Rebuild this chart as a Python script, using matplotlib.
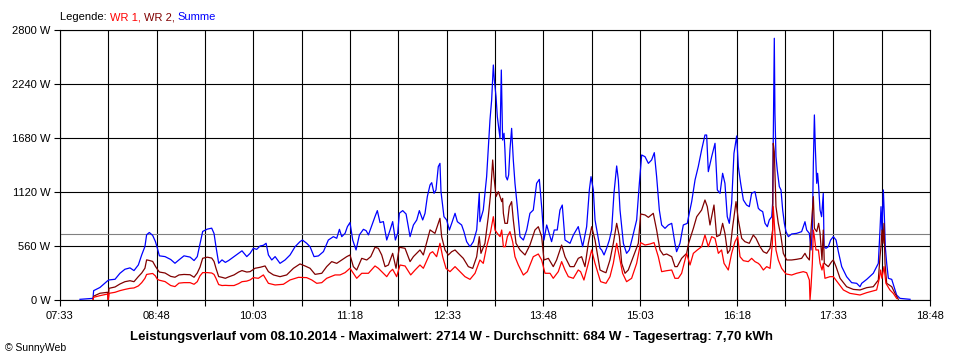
import matplotlib
matplotlib.use("Agg")
from matplotlib import pyplot as plt
import numpy as np

plt.rcParams['font.family'] = ['Liberation Sans', 'DejaVu Sans']

# Zeitachse: Minuten nach 07:33, Leistung in W
start_min = 7 * 60 + 33
span_min = 675

# Summe (blau)
summe = [(15.5, 7), (25.6, 17), (26.1, 97), (31.0, 130), (37.0, 200), (38.0, 208), (42.7, 215), (46.5, 277),
         (50.4, 319), (54.3, 333), (57.4, 305), (60.8, 364), (63.4, 468), (65.9, 555), (67.2, 676), (69.3, 700),
         (71.9, 670), (74.0, 607), (75.5, 540), (77.1, 458), (81.5, 450), (85.9, 420), (89.2, 381), (92.3, 416),
         (96.2, 458), (100.9, 445), (104.0, 409), (106.5, 450), (108.6, 580), (110.7, 711), (114.3, 735),
         (117.7, 745), (119.5, 690), (121.0, 555), (123.1, 381), (125.7, 416), (128.3, 390), (130.9, 410),
         (135.0, 450), (138.6, 485), (141.2, 510),
         (144.9, 450), (147.5, 484), (150.0, 536), (152.6, 525), (155.2, 560), (157.8, 567), (159.9, 588),
         (161.7, 467), (164.3, 415), (166.9, 450), (170.7, 380), (174.6, 415), (178.5, 467), (182.4, 553),
         (186.2, 605), (188.1, 622), (191.4, 588), (194.0, 553), (197.1, 450), (200.5, 457), (204.4, 502),
         (208.2, 622), (212.1, 657), (214.7, 640), (216.8, 733), (218.6, 657), (221.2, 692), (223.0, 761),
         (225.0, 803), (227.1, 622), (229.7, 519), (232.3, 675), (235.4, 733), (237.5, 719), (239.3, 675),
         (241.8, 768), (244.4, 865), (246.2, 927), (248.3, 803), (250.9, 813), (253.5, 622), (256.1, 726),
         (258.1, 813), (260.2, 622), (262.0, 692), (263.3, 900), (265.9, 927), (268.5, 892), (271.6, 657),
         (274.2, 778), (276.8, 830), (278.8, 927), (281.4, 830), (283.2, 899), (285.0, 1073), (287.1, 1193),
         (288.4, 1217), (290.2, 1106), (291.7, 1141), (293.5, 1383), (294.8, 1417), (295.6, 1124), (297.9, 864),
         (300.0, 830), (302.1, 726), (303.9, 795), (306.5, 899), (308.3, 812), (311.6, 778), (313.4, 709),
         (315.5, 605), (318.1, 553), (320.7, 605), (323.3, 726), (325.3, 1106), (325.8, 812), (328.4, 933),
         (331.0, 1279), (333.6, 1867), (334.9, 2074), (336.2, 2437), (337.0, 2282), (338.3, 2109), (339.3, 1901),
         (340.6, 1763), (341.4, 1677), (342.4, 2385), (343.4, 1659), (344.5, 1729), (345.2, 1556), (346.0, 1279),
         (347.1, 1245), (348.1, 1297), (349.1, 1556), (350.4, 1780), (351.7, 1452), (353.0, 1210), (354.8, 968),
         (356.9, 657), (359.5, 622), (362.1, 726), (364.6, 899), (367.2, 933), (369.8, 1210), (371.9, 1251),
         (373.9, 933), (375.5, 622), (377.6, 778), (381.4, 605), (383.5, 726), (385.8, 726), (387.9, 933),
         (389.7, 985), (391.8, 622), (395.7, 588), (398.3, 674), (402.1, 761), (405.5, 553), (408.6, 760),
         (410.7, 1141), (412.0, 1279), (413.8, 1141), (415.1, 830), (419.0, 536),
         (420.3, 518), (422.1, 467), (424.1, 536), (426.2, 622), (428.0, 726), (429.8, 1106), (431.9, 1390),
         (433.2, 1245), (434.5, 933), (437.1, 588), (439.6, 484), (441.7, 519), (444.3, 657), (447.4, 830),
         (449.5, 1210), (451.3, 1504), (453.9, 1486), (456.5, 1417), (459.0, 1452), (461.1, 1528), (462.9, 1279),
         (465.0, 933), (466.8, 778), (469.4, 743), (472.0, 778), (474.6, 795), (477.1, 588), (478.4, 501),
         (481.0, 588), (483.6, 778), (486.7, 795), (487.7, 864), (490.1, 1020), (492.7, 1245), (495.2, 1383),
         (497.8, 1556), (500.4, 1711), (501.7, 1711), (503.0, 1331), (505.6, 1486), (508.2, 1625), (510.0, 1141),
         (512.1, 1106), (514.1, 1314), (515.9, 1210), (517.7, 864), (519.3, 795), (521.1, 1003), (522.9, 1521),
         (525.0, 1701), (526.3, 1383), (528.1, 1210), (530.2, 1037), (532.7, 985), (534.8, 968), (536.6, 1106),
         (539.2, 1124), (541.8, 951),
         (543.1, 933), (545.2, 916), (547.0, 795), (548.8, 760), (550.3, 830), (552.2, 864), (552.9, 1003),
         (553.4, 1625), (554.2, 2714), (554.7, 1936), (555.5, 1487), (556.5, 1348), (558.1, 1176), (559.4, 1141),
         (560.7, 933), (562.0, 795), (563.3, 709), (565.1, 657), (567.7, 685), (571.5, 691), (575.4, 709),
         (578.0, 812), (579.3, 726), (581.4, 691), (582.7, 519), (583.7, 726), (584.5, 1417), (585.3, 1919),
         (586.0, 1590), (587.1, 1210), (587.8, 1314), (588.6, 1176), (589.7, 933), (590.9, 864), (592.2, 1106),
         (592.8, 553), (594.3, 536), (596.1, 553), (597.9, 622), (600.0, 657), (602.1, 622), (603.9, 501),
         (606.5, 346), (610.3, 242), (614.2, 180), (618.1, 173), (620.7, 138), (622.0, 173), (625.9, 214),
         (631.0, 277), (634.9, 380), (636.2, 726), (637.0, 968), (637.7, 726), (638.8, 1141), (639.6, 864),
         (640.3, 553), (641.4, 380), (642.7, 225), (645.3, 214), (647.1, 138), (649.1, 52), (651.7, 17), (659.5, 7)]

# WR 2 (dunkelrot)
wr2 = [(25.6, 0), (26.1, 40), (31.0, 70), (37.0, 80), (37.5, 0), (38.0, 121), (42.7, 135), (46.5, 166),
       (50.4, 190), (54.3, 200), (57.4, 190), (60.8, 243), (63.4, 280), (65.9, 330), (67.2, 416), (69.3, 410),
       (71.9, 400), (74.0, 350), (75.5, 319), (77.1, 290), (81.5, 280), (85.9, 245), (89.2, 236), (92.3, 260),
       (96.2, 265), (100.9, 262), (104.0, 236), (106.5, 280), (108.6, 340), (110.7, 433), (114.3, 444),
       (117.7, 435), (119.5, 400), (121.0, 330), (123.1, 243), (125.7, 235), (128.3, 225), (130.9, 240),
       (135.0, 260), (138.6, 290), (141.2, 305),
       (144.9, 290), (147.5, 294), (151.3, 329), (155.2, 339), (159.1, 353), (161.7, 294), (165.6, 260),
       (170.7, 242), (175.9, 260), (181.1, 329), (186.2, 374), (190.1, 353), (194.0, 329), (197.9, 266),
       (203.1, 277), (206.9, 346), (210.8, 398), (214.7, 380), (218.6, 415), (222.5, 450), (225.0, 467),
       (227.6, 346), (230.2, 311), (234.1, 432), (238.0, 415), (241.1, 450), (244.4, 547), (247.0, 536),
       (249.6, 467), (252.2, 346), (254.8, 363), (258.1, 484), (260.7, 329), (263.3, 547), (267.7, 536),
       (271.6, 398), (274.2, 450), (279.3, 519), (281.9, 467), (285.0, 623), (287.1, 727),
       (290.9, 691), (293.5, 795), (294.8, 847), (296.1, 657), (298.7, 519), (301.3, 467), (303.9, 501),
       (306.5, 519), (309.0, 484), (312.9, 432), (316.8, 346), (320.2, 328), (323.3, 449), (325.3, 657),
       (326.6, 484), (329.7, 588), (332.3, 864), (334.1, 1106), (335.7, 1452), (336.7, 1279), (338.3, 1072),
       (340.1, 1124), (341.4, 1072), (342.7, 1020), (343.4, 1054), (344.0, 899), (345.2, 795), (347.1, 795),
       (348.6, 968), (350.4, 1020), (351.7, 830), (353.8, 588), (356.9, 519), (360.8, 467), (364.6, 570),
       (368.5, 726), (371.1, 760), (373.7, 657), (375.5, 415), (378.9, 432), (382.7, 346), (385.3, 415),
       (389.2, 570), (391.8, 449), (395.7, 346), (398.8, 346), (402.1, 432), (404.7, 449), (407.3, 346),
       (409.9, 588), (412.5, 760), (415.1, 622), (419.0, 311),
       (421.5, 294), (423.6, 283), (426.7, 415), (429.3, 588), (431.9, 795), (434.0, 657), (435.8, 380),
       (438.4, 277), (440.9, 311), (444.8, 449), (448.7, 588), (450.5, 892), (453.9, 882), (456.5, 857),
       (460.3, 899), (462.9, 726), (465.5, 519), (468.1, 467), (470.7, 477), (474.6, 449), (477.1, 346),
       (478.9, 346), (482.3, 432), (486.2, 484), (487.7, 588), (491.4, 743), (494.0, 864), (497.8, 933),
       (500.4, 1037), (502.2, 968), (504.3, 778), (507.4, 985), (509.5, 657), (512.1, 674), (514.1, 795),
       (515.9, 691), (518.0, 484), (519.8, 519), (521.9, 760), (524.5, 1020), (526.3, 830), (528.9, 640),
       (531.4, 605), (534.8, 588), (537.9, 674), (540.0, 640),
       (543.1, 553), (545.7, 501), (548.3, 484), (550.9, 536), (552.2, 657), (552.9, 726), (553.4, 1625),
       (554.2, 1538), (555.5, 968), (557.3, 795), (559.4, 657), (561.2, 484), (563.8, 415), (567.7, 415),
       (571.5, 422), (575.4, 432), (578.0, 484), (579.3, 449), (581.4, 415), (582.7, 726), (584.5, 1072),
       (585.3, 743), (587.1, 709), (588.6, 795), (589.7, 691), (591.2, 415), (592.2, 726), (593.0, 380),
       (596.1, 346), (598.7, 398), (600.0, 415), (602.1, 346), (605.2, 225), (610.3, 138), (615.5, 110),
       (620.7, 104), (625.9, 128), (631.0, 138), (634.9, 207), (636.2, 450), (637.0, 553), (637.7, 726),
       (638.5, 588), (639.3, 795), (640.1, 380), (641.4, 173), (645.3, 138), (647.8, 69), (650.4, 7)]

# WR 1 (rot)
wr1 = [(25.6, 0), (26.1, 28), (31.0, 45), (37.0, 62), (37.5, 0), (38.0, 69), (42.7, 80), (46.5, 97),
       (50.4, 110), (54.3, 121), (57.4, 125), (60.8, 146), (63.4, 180), (65.9, 225), (67.2, 265), (69.3, 270),
       (71.9, 275), (74.0, 250), (75.5, 215), (77.1, 205), (81.5, 191), (85.9, 150), (89.2, 139), (92.3, 175),
       (96.2, 180), (100.9, 180), (104.0, 163), (106.5, 190), (108.6, 250), (110.7, 284), (114.3, 284),
       (117.7, 280), (119.5, 265), (121.0, 225), (123.1, 160), (125.7, 150), (128.3, 152), (130.9, 150),
       (135.0, 150), (138.6, 170), (141.2, 190),
       (144.9, 196), (147.5, 208), (150.0, 232), (153.9, 225), (157.8, 260), (161.7, 173), (166.9, 156),
       (173.3, 163), (178.5, 208), (185.0, 235), (191.4, 232), (195.3, 208), (199.2, 173), (203.1, 180),
       (206.9, 225), (213.4, 260), (217.3, 260), (221.2, 284), (225.0, 329), (227.6, 277), (230.2, 225),
       (234.1, 277), (239.3, 277), (244.4, 353), (247.0, 329), (249.6, 294), (253.5, 242), (256.1, 294),
       (258.1, 318), (261.2, 242), (263.8, 363), (267.7, 353), (272.1, 260), (275.5, 311), (279.3, 363),
       (281.9, 329), (287.1, 484),
       (289.1, 501), (292.2, 449), (294.8, 588), (296.9, 449), (299.5, 328), (302.6, 294), (306.5, 346),
       (310.3, 294), (314.2, 242), (318.1, 214), (322.0, 277), (325.8, 415), (328.4, 380), (331.0, 553),
       (334.1, 709), (336.2, 864), (337.5, 726), (339.3, 691), (341.4, 657), (342.7, 726), (344.0, 553),
       (345.5, 553), (347.1, 657), (349.1, 709), (351.2, 605), (353.0, 449), (355.6, 363), (359.5, 259),
       (362.6, 294), (367.2, 449), (371.1, 477), (373.7, 415), (376.3, 277), (380.2, 277), (382.7, 225),
       (386.6, 294), (389.2, 398), (391.8, 311), (394.4, 242), (398.3, 225), (402.1, 311), (403.9, 294),
       (406.5, 207), (409.9, 380), (412.5, 519), (415.1, 380), (419.0, 207),
       (419.5, 190), (423.6, 173), (426.7, 242), (429.3, 380), (431.9, 588), (434.0, 449), (436.5, 277),
       (439.6, 190), (443.5, 225), (447.4, 380), (450.5, 595), (453.9, 570), (457.8, 581), (460.9, 595),
       (464.2, 449), (466.8, 294), (470.7, 304), (474.6, 311), (477.1, 225), (479.7, 225), (482.3, 277),
       (486.2, 484), (488.8, 363), (491.4, 484), (494.5, 519), (497.8, 553), (500.4, 674), (503.0, 553),
       (505.6, 657), (508.2, 640), (510.8, 484), (513.3, 519), (515.2, 380), (518.5, 311), (521.1, 484),
       (523.7, 605), (525.8, 657), (527.6, 449), (530.2, 408), (534.0, 398), (536.6, 432), (539.2, 398),
       (541.8, 380),
       (543.1, 363), (545.7, 311), (548.3, 346), (550.9, 328), (552.7, 588), (553.4, 968), (554.2, 795),
       (555.5, 519), (557.3, 415), (559.9, 328), (563.3, 270), (567.7, 259), (571.5, 277), (576.7, 294),
       (579.3, 283), (581.4, 207), (581.9, 0), (582.7, 138), (583.7, 380), (584.5, 726), (585.3, 657),
       (586.5, 519), (588.4, 519), (589.7, 380), (591.2, 311), (592.2, 380), (593.5, 225), (597.4, 242),
       (600.0, 242), (603.9, 173), (607.8, 104), (612.9, 69), (620.7, 52), (625.9, 76), (633.6, 104),
       (635.7, 225), (636.7, 311), (637.7, 225), (639.3, 346), (640.8, 173), (643.9, 104), (646.5, 69),
       (649.1, 17)]

durchschnitt = 684
y_ticks = [0, 560, 1120, 1680, 2240, 2800]

title = ("Leistungsverlauf vom 08.10.2014 - Maximalwert: 2714 W - Durchschnitt: 684 W "
         "- Tagesertrag: 7,70 kWh")

# Grafik
fig = plt.figure(figsize=(9.6, 3.6), dpi=100)
ax = fig.add_axes([60 / 960, 60 / 360, 870 / 960, 270 / 360])

for pts, col in [(summe, '#0000ff'), (wr2, '#800000'), (wr1, '#ff0000')]:
    t, p = zip(*pts)
    ax.plot(t, p, color=col, lw=0.9, zorder=3)

ax.axhline(durchschnitt, color='#808080', lw=0.8, zorder=2)

ax.set_xlim(0, span_min)
ax.set_ylim(0, 2800)

xt = np.arange(0, span_min + 1, 37.5)
labels = []
for i, m in enumerate(xt):
    if i % 2 == 0:
        tm = int(start_min + m)
        labels.append('%02d:%02d' % (tm // 60, tm % 60))
    else:
        labels.append('')
ax.set_xticks(xt)
ax.set_xticklabels(labels)
ax.set_yticks(y_ticks)
ax.set_yticklabels(['%d W' % v for v in y_ticks])

ax.grid(True, color='black', lw=0.8, zorder=1)
ax.set_axisbelow(True)
for s in ax.spines.values():
    s.set_color('black')
    s.set_linewidth(0.8)
ax.tick_params(axis='both', direction='out', length=4, width=0.8, labelsize=8, colors='black')
ax.tick_params(axis='x', pad=4)
ax.tick_params(axis='y', pad=3)

# Legende oben
t0 = fig.text(60 / 960, 1 - 17 / 360, 'Legende: ', fontsize=8, va='center', ha='left')
t1 = ax.annotate('WR 1, ', xy=(1, 0), xycoords=t0, va='bottom', ha='left', fontsize=8, color='#ff0000')
t2 = ax.annotate('WR 2, ', xy=(1, 0), xycoords=t1, va='bottom', ha='left', fontsize=8, color='#800000')
t3 = ax.annotate('Summe', xy=(1, 0), xycoords=t2, va='bottom', ha='left', fontsize=8, color='#0000ff')

fig.text(452 / 960, 1 - 337 / 360, title, fontsize=9.5, fontweight='bold', ha='center', va='center')
fig.text(5 / 960, 1 - 348 / 360, '\u00a9 SunnyWeb', fontsize=7.5, ha='left', va='center')

fig.savefig('out.png', dpi=100, facecolor='white')
